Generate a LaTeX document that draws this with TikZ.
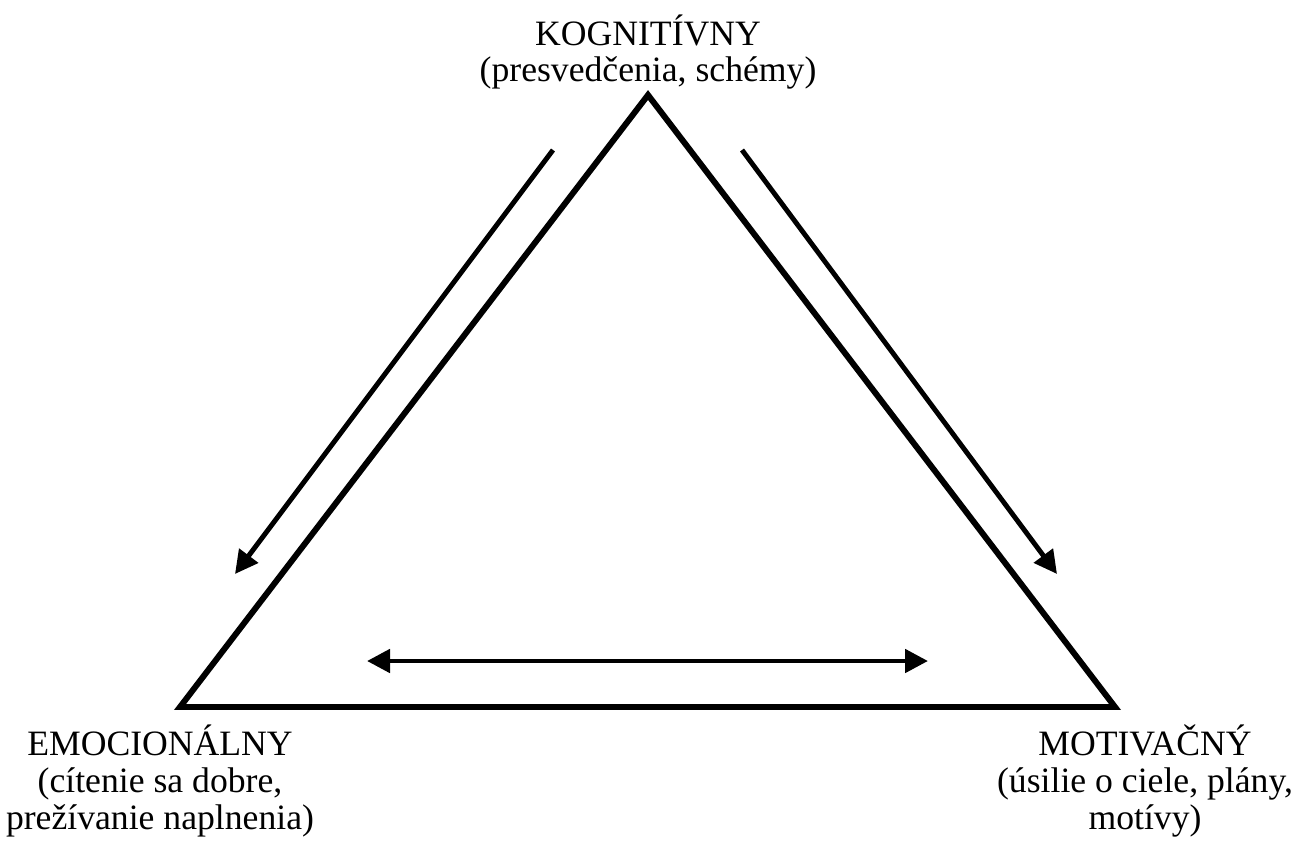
\documentclass[tikz,border=0pt]{standalone}
\usepackage{fontspec}
\setmainfont{Liberation Serif}
\usepackage{tikz}
\usetikzlibrary{arrows.meta}
\tikzset{
  corner/.style={align=center,font=\fontsize{20.3}{21}\selectfont},
  flow/.style={line width=2.8pt,-{Triangle[length=0.46cm,width=0.46cm]}},
  flowboth/.style={line width=2.8pt,{Triangle[length=0.46cm,width=0.46cm]}-{Triangle[length=0.46cm,width=0.46cm]}}
}

\begin{document}
\begin{tikzpicture}[x=0.02cm,y=-0.02cm]
\useasboundingbox (0,0) rectangle (1307,852);
% vertices of the triangle
\coordinate (kv) at (648,95);
\coordinate (ev) at (180,707);
\coordinate (mv) at (1115,707);
\draw[line width=3.4pt,line join=miter] (kv) -- (ev) -- (mv) -- cycle;
% arrows along the sides
\coordinate (l1) at (553,150);
\coordinate (l2) at (235,574);
\coordinate (r1) at (742,150);
\coordinate (r2) at (1057,574);
\coordinate (b1) at (367,661);
\coordinate (b2) at (928,661);
\draw[flow] (l1) -- (l2);
\draw[flow] (r1) -- (r2);
\draw[flowboth] (b1) -- (b2);
% labels
\node[corner] (kog) at (648,52) {KOGNITÍVNY\\(presvedčenia, schémy)};
\node[corner] (emo) at (160,781) {EMOCIONÁLNY\\(cítenie sa dobre,\\prežívanie naplnenia)};
\node[corner] (mot) at (1145,781) {MOTIVAČNÝ\\(úsilie o ciele, plány,\\motívy)};
\end{tikzpicture}
\end{document}
